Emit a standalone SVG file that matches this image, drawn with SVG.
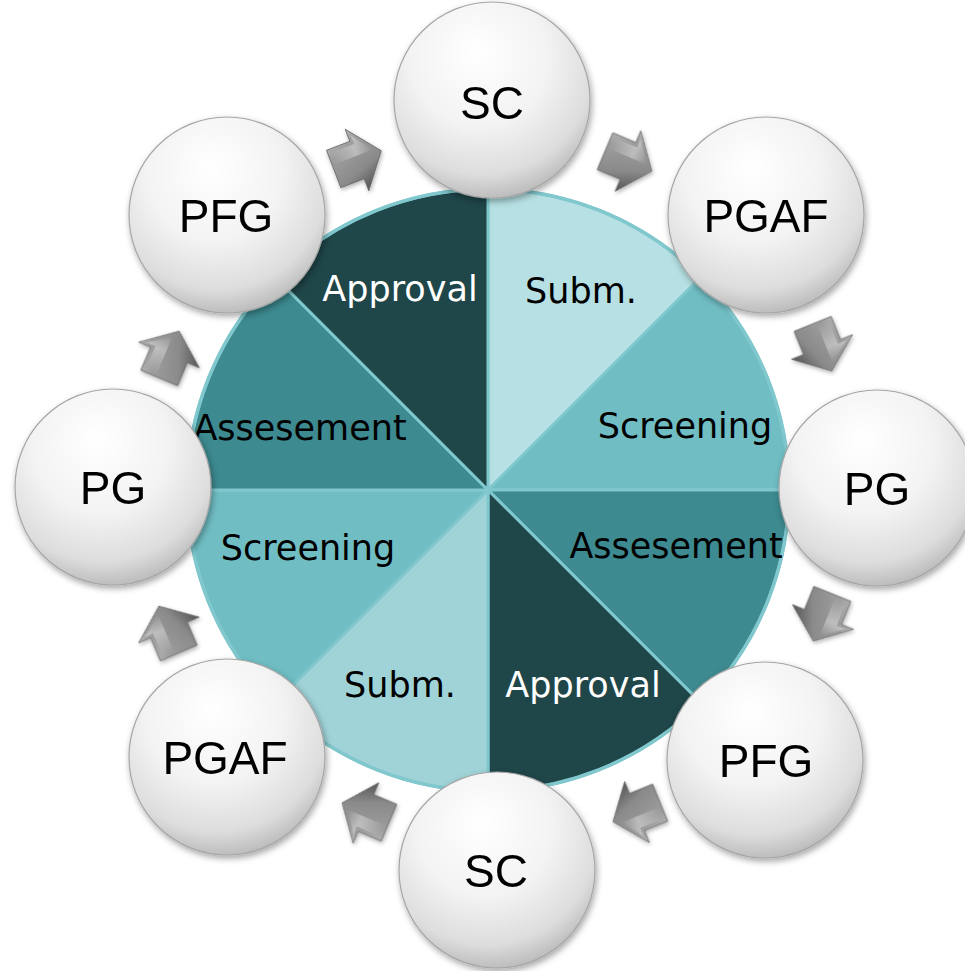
<svg xmlns="http://www.w3.org/2000/svg" width="965" height="971" viewBox="0 0 965 971">
  <defs>
    <radialGradient id="ball" cx="45%" cy="32%" r="70%" fx="42%" fy="25%">
      <stop offset="0" stop-color="#ffffff"/>
      <stop offset="0.5" stop-color="#f3f3f3"/>
      <stop offset="0.82" stop-color="#dddddd"/>
      <stop offset="1" stop-color="#b8b8b8"/>
    </radialGradient>
    <linearGradient id="arrowFill" x1="0" y1="0" x2="0.3" y2="1">
      <stop offset="0" stop-color="#c2c2c2"/>
      <stop offset="0.35" stop-color="#9d9d9d"/>
      <stop offset="0.75" stop-color="#8a8a8a"/>
      <stop offset="1" stop-color="#5e5e5e"/>
    </linearGradient>
    <linearGradient id="arrowHi" x1="0" y1="0" x2="1" y2="0">
      <stop offset="0" stop-color="#ffffff" stop-opacity="0"/>
      <stop offset="0.6" stop-color="#ffffff" stop-opacity="0.6"/>
      <stop offset="1" stop-color="#ffffff" stop-opacity="0"/>
    </linearGradient>
    <filter id="shadow" x="-20%" y="-20%" width="140%" height="150%">
      <feDropShadow dx="1.5" dy="3" stdDeviation="3" flood-color="#000" flood-opacity="0.35"/>
    </filter>
    <filter id="ashadow" x="-30%" y="-30%" width="160%" height="160%">
      <feDropShadow dx="1" dy="2" stdDeviation="2" flood-color="#000" flood-opacity="0.3"/>
    </filter>
    <g id="arrow">
      <path d="M-25,-20 L0,-20 L0,-33 L26,0 L0,33 L0,20 L-25,20 Z" fill="url(#arrowFill)" stroke="#6a6a6a" stroke-width="0.8" stroke-linejoin="round"/>
      <path d="M-22,-16 L3,-16 L3,-25 L18,-4 L-22,-4 Z" fill="url(#arrowHi)" opacity="0.6"/>
    </g>
  </defs>
  <style>
    .slice { stroke: #80c8cd; stroke-width: 3; stroke-linejoin: round; }
    .node circle { fill: url(#ball); stroke: #a6a6a6; stroke-width: 1.2; filter: url(#shadow); }
    .node text { font-family: "Liberation Sans", Arial, sans-serif; font-size: 46px; fill: #000; text-anchor: middle; }
    .lbl { font-family: "DejaVu Sans", Verdana, sans-serif; font-size: 35px; text-anchor: middle; }
    .dark { fill: #ffffff; }
    .light { fill: #000000; }
  </style>

  <rect width="965" height="971" fill="#ffffff"/>

  <g id="pie">
    <g id="slice-subm-top">
      <path class="slice" d="M488,490 L488,189 A301,301 0 0 1 700.8,277.2 Z" fill="#b6e0e3"/>
    </g>
    <g id="slice-screening-right">
      <path class="slice" d="M488,490 L700.8,277.2 A301,301 0 0 1 789,490 Z" fill="#70bec4"/>
    </g>
    <g id="slice-assesement-right">
      <path class="slice" d="M488,490 L789,490 A301,301 0 0 1 700.8,702.8 Z" fill="#3d8a90"/>
    </g>
    <g id="slice-approval-bottom">
      <path class="slice" d="M488,490 L700.8,702.8 A301,301 0 0 1 488,791 Z" fill="#1f4649"/>
    </g>
    <g id="slice-subm-bottom">
      <path class="slice" d="M488,490 L488,791 A301,301 0 0 1 275.2,702.8 Z" fill="#9fd3d8"/>
    </g>
    <g id="slice-screening-left">
      <path class="slice" d="M488,490 L275.2,702.8 A301,301 0 0 1 187,490 Z" fill="#70bec4"/>
    </g>
    <g id="slice-assesement-left">
      <path class="slice" d="M488,490 L187,490 A301,301 0 0 1 275.2,277.2 Z" fill="#3d8a90"/>
    </g>
    <g id="slice-approval-top">
      <path class="slice" d="M488,490 L275.2,277.2 A301,301 0 0 1 488,189 Z" fill="#1f4649"/>
    </g>
    <circle cx="488" cy="490" r="301" fill="none" stroke="#80c8cd" stroke-width="3.5"/>
    <text class="lbl dark" x="400" y="301">Approval</text>
    <text class="lbl light" x="581" y="303">Subm.</text>
    <text class="lbl light" x="685" y="438">Screening</text>
    <text class="lbl light" x="676" y="558">Assesement</text>
    <text class="lbl dark" x="583" y="697">Approval</text>
    <text class="lbl light" x="400" y="697">Subm.</text>
    <text class="lbl light" x="308" y="560">Screening</text>
    <text class="lbl light" x="300" y="440">Assesement</text>
  </g>

  <g id="connectors" filter="url(#ashadow)">
    <use href="#arrow" transform="translate(357,160) rotate(-21)"/>
    <use href="#arrow" transform="translate(628,161) rotate(23)"/>
    <use href="#arrow" transform="translate(822,347) rotate(68)"/>
    <use href="#arrow" transform="translate(823,617) rotate(112)"/>
    <use href="#arrow" transform="translate(637,812) rotate(158)"/>
    <use href="#arrow" transform="translate(366,813) rotate(203)"/>
    <use href="#arrow" transform="translate(169,630) rotate(247)"/>
    <use href="#arrow" transform="translate(169,355) rotate(293)"/>
  </g>

  <g id="node-sc-top" class="node">
    <circle cx="492" cy="100" r="98"/>
    <text x="492" y="119">SC</text>
  </g>
  <g id="node-pgaf-tr" class="node">
    <circle cx="766" cy="215" r="98"/>
    <text x="766" y="232">PGAF</text>
  </g>
  <g id="node-pg-right" class="node">
    <circle cx="877" cy="488" r="98"/>
    <text x="877" y="505">PG</text>
  </g>
  <g id="node-pfg-br" class="node">
    <circle cx="765" cy="760" r="98"/>
    <text x="766" y="777">PFG</text>
  </g>
  <g id="node-sc-bottom" class="node">
    <circle cx="497" cy="870" r="98"/>
    <text x="496" y="887">SC</text>
  </g>
  <g id="node-pgaf-bl" class="node">
    <circle cx="227" cy="757" r="98"/>
    <text x="225" y="774">PGAF</text>
  </g>
  <g id="node-pg-left" class="node">
    <circle cx="113" cy="487" r="98"/>
    <text x="113" y="504">PG</text>
  </g>
  <g id="node-pfg-tl" class="node">
    <circle cx="227" cy="215" r="98"/>
    <text x="226" y="232">PFG</text>
  </g>
</svg>
